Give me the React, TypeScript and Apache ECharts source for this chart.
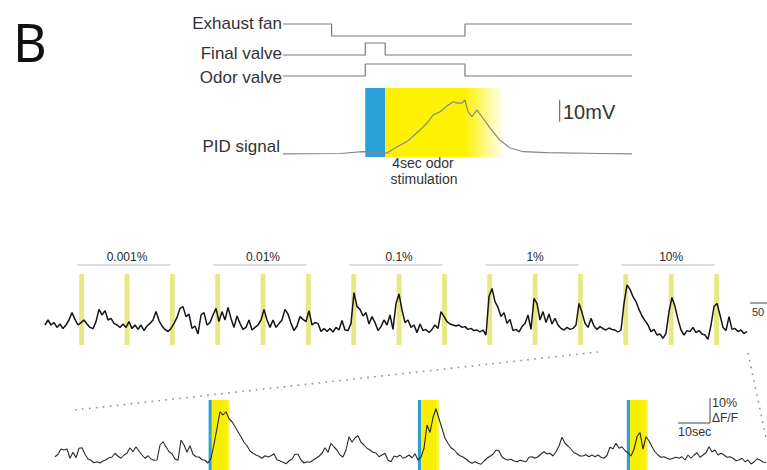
import React, { useEffect, useRef } from "react";
import * as echarts from "echarts";

// ---------- Top panel (time in s relative to odor valve opening) ----------
const TOP_T_MIN = -3.3;
const TOP_T_MAX = 10.7;
const EXHAUST_T = [-3.3, -1.35, 4.0, 10.7];
const EXHAUST_S = [1, 0, 1, 1];
const FINAL_T = [-3.3, 0, 0.8, 10.7];
const FINAL_S = [0, 1, 0, 0];
const ODOR_T = [-3.3, 0, 4.0, 10.7];
const ODOR_S = [0, 1, 0, 0];
const PID_T = [-3.3, -1.0, -0.1, 0.4, 0.87, 1.27, 1.67, 2.2, 2.52, 2.72, 3.0, 3.28, 3.52, 3.72, 3.88, 4.0, 4.12, 4.28, 4.48, 4.68, 5.0, 5.4, 5.81, 6.33, 7.29, 9.42, 10.7];
const PID_MV = [1.4, 1.6, 2.4, 2.0, 1.8, 4.5, 7.0, 12.3, 15.9, 19.1, 20.6, 23.2, 25.1, 24.5, 24.5, 25.9, 20.6, 18.3, 21.4, 18.3, 13.2, 7.7, 4.1, 2.4, 2.0, 1.6, 1.4];
const PID_BLUE = [0, 0.8];
const PID_YELLOW = [0.8, 5.6];
const PID_SCALE_T = 7.8;
const PID_SCALE_MV = [16, 26];

// ---------- Middle panel (time in s, ΔF/F in %) ----------
const MID_DT = 4.3;
const MID_T_MAX = 1010.5;
const MID_VALUES = [
  2.5, 5, 2.5, 3.7, 1.3, 3, 0.7, 2.5, 5, 8.7,
  5.3, 2.5, 3.7, 5, 3, 1.3, 0.7, 4.2, 10.3, 7.5,
  9.7, 5, 5.8, 3.3, 2.5, 1.3, 3, 1.3, 4.2, 0.7,
  2.5, 0.3, 2.5, -0.3, 2, 3.3, 5, 9.2, 4.7, 2,
  0.3, -0.8, 0.8, 3.3, 6.3, 10.8, 11.7, 6.7, 8, 0.8,
  2, -2, 7.5, 8.7, 2.5, 3.7, 7.5, 10.8, 4.2, 9.2,
  5, 11.3, 5.8, 1.3, 7, 3.3, 0.3, 1.3, 5, 0,
  1.3, 2.5, 5, 10.3, 5, 1.3, 5, 1.3, 3.3,
  5, 10.3, 8, 3.3, -0.3, 2, 6.7, 5.3, 4.2, 9.7,
  2.5, 3.7, 3.3, -0.8, 0.8, -0.8, 0.8, -1, 1.3, 0,
  4.7, 0, -0.3, 3.3, 18.7, 11.7, 10.3, 7, 8.7, 3,
  6.7, 3.7, -0.3, 1.7, 5, 2.5, 7.5, 0.3, 13.3, 18,
  10, 3.7, 5, 1.3, 2.5, -1.3, 3, -0.3, 0.3, -1.3,
  0.3, 2.5, 0.8, 9.2, 6.7, 4.2, 3, 2.5, 2, 2.5,
  1.3, 1.7, 0.3, 0.8, -0.3, 0, -1, 0, -2.5, 16.7,
  20.8, 14.2, 11.3, 6.7, 8.7, 3.3, 5.3, -0.3,
  0.3, -1, 1.7, 3.3, 7.5, 0.3, 15.8, 13.3, 5, 9.2,
  3.7, 8, 3, 5.8, 2.5, 0.8, 0, 1.3, 0.3, 0.8,
  2.5, 13.3, 8.7, 3.3, 1.3, 5.8, 2, 0.3, 1.7, 0.7,
  0, 1, 0.3, 0, -1, 0, 13.3, 22.5, 20.3, 16.7,
  14.2, 10.3, 7, 4.7, 2.5, -0.8, 0.3, -2.5, -2, -4.2,
  -1.7, 9.2, 16.3, 11.7, 5.3, 0, -2.5, -0.3, -0.8, 1.3,
  -1.3, -0.3, -2, -2.5, -4.7, 2.5, 11.7, 13.3, 7.5, 1.3,
  -0.3, 6.7, 0.3, 0.8, -0.8, 0, -1.7, -0.8,
];
const MID_STIM = [49, 114, 179, 244, 309, 374, 439, 504, 569, 634, 699, 764, 829, 894, 959];
const MID_STIM_W = 7;
const CONC_LABELS = ["0.001%", "0.01%", "0.1%", "1%", "10%"];

// ---------- Bottom panel (zoom on 10%; time in s, ΔF/F in %) ----------
const BOT_DT = 0.9375;
const BOT_T_MAX = 222.5;
const BOT_VALUES = [
  1.3, 2.3, 4.4, 4, 4.4, 0.7, 3.1, 0.9, 4.7, 4.9,
  2.3, 0.4, -0.1, -1.1, -0.7, -1.2, -0.4, 0.1, 0.9, 1.2,
  2.7, 1.5, 0.7, 2, 2.7, 4.9, 3.3, 5.3, 3.6, 2,
  0.7, 1.7, 0.4, -0.1, 0, 6, 7.3, 5.3, 3.3, 2.5,
  0.4, -0.1, 8, 6, 3.1, 5.7, 2.3, 1.3, 1.2, 0.1,
  -0.1, -1.2, 0.7, 6.3, 12.7, 19.3, 18, 19.3, 16.5, 15.3,
  13.3, 11.3, 9.3, 7.1, 5.7, 3.6, 2.7, 2, 1.5, 0.7,
  1.7, 1.2, 1.7, 2.5, 0.1, -0.4, -0.9, -1.5, -0.4, 0.4,
  2.3, 2.3, 0, -1.2, -0.7, -0.9, -0.1, 0.7, 1.5, 2.7,
  4.9, 3.1, 6.7, 5.2, 4, 2, 1.2, 4, 9.3, 7.1,
  8.9, 9.7, 7.1, 6, 4.7, 4, 3.1, 2.8, 1.3, 2,
  2.7, -0.1, -0.7, 1.6, 1.2, 2, 0.7, 1.2, 2, 0.9,
  2.5, 0, 1.2, 4.7, 14, 11, 17, 20.5, 16.5, 12.7,
  8.7, 6.7, 4.9, 4.1, 2.7, 1.7, 1.2, 0.4, -0.7, -1.3,
  -0.7, -1.3, -1.7, -0.4, 0.7, 1.5, 2.3, 4, 3.6, 1.2,
  0.4, 0, 0.3, -0.4, -0.7, -0.1, -0.4, -0.7, 1.1, 1.3,
  0.7, 1.3, 2.4, 3.3, 2.4, 2.7, 1.6, 3.3, 5.6, 9.1,
  6.7, 5.6, 4.3, 2.9, 2.4, 1.6, 1.6, 2.1, 1.3, 2,
  1.3, 2, 1.1, 0.7, 1.9, 5.1, 4.5, 6.7, 4.7, 5.3,
  3.7, 2.9, 1.6, 4.3, 9.3, 11, 4.3, 9.3, 7.7, 5.3,
  3.3, 2, 1.1, 1.3, 0.7, 0.3, 0.7, 1.1, 0.7, 1.3,
  0, 2, 0.7, 2, 2.9, 1.1, 2, 2.9, 5.3, 3.3,
  4, 2, 2.7, 2, 1.1, 1.3, 0.7, -0.3, 0, 0.7,
  -0.7, 0, -1.6, -0.8, 0.5, 0, -0.8, -1,
];
const BOT_STIM = [48, 113.4, 178.7];
const BOT_BLUE_W = 1;
const BOT_YELLOW_W = 5.6;
const BOT_SCALE_T = 194.7;
const BOT_SCALE_V = 14.8;
const BOT_SCALE_SEC = 10;
const BOT_SCALE_PCT = 10;

const FONT = "'Liberation Sans', Arial, Helvetica, sans-serif";
const TXT = "#333333";
const BLUE = "#2b9fd8";
const YELLOW = "#fff200";
const PALE = "rgba(222, 226, 92, 0.75)";

function buildOption(): any {
  const axisPair = (i: number, xmin: number, xmax: number, ymin: number, ymax: number) => ({
    x: { type: "value", gridIndex: i, min: xmin, max: xmax, show: false },
    y: { type: "value", gridIndex: i, min: ymin, max: ymax, show: false },
  });
  const grids = [
    { left: 283, top: 24, width: 349, height: 12 },
    { left: 283, top: 43, width: 349, height: 12 },
    { left: 283, top: 64, width: 349, height: 12 },
    { left: 283, top: 88, width: 349, height: 69 },
    { left: 45, top: 250, width: 705, height: 15 },
    { left: 45, top: 274, width: 705, height: 71 },
    { left: 55, top: 396, width: 712, height: 74 },
  ].map((g) => ({ ...g, containLabel: false, show: false }));
  const axes = [
    axisPair(0, TOP_T_MIN, TOP_T_MAX, 0, 1),
    axisPair(1, TOP_T_MIN, TOP_T_MAX, 0, 1),
    axisPair(2, TOP_T_MIN, TOP_T_MAX, 0, 1),
    axisPair(3, TOP_T_MIN, TOP_T_MAX, 0, 31.36),
    axisPair(4, 0, MID_T_MAX, 0, 1),
    axisPair(5, 0, MID_T_MAX, -7.5, 28),
    axisPair(6, 0, BOT_T_MAX, -4, 25.6),
  ];

  const step = (i: number, T: number[], S: number[]) => ({
    type: "line",
    xAxisIndex: i,
    yAxisIndex: i,
    step: "end",
    symbol: "none",
    clip: false,
    silent: true,
    data: T.map((t, k) => [t, S[k]]),
    lineStyle: { color: "#7b7b7b", width: 1.2 },
  });

  const fade = new echarts.graphic.LinearGradient(0, 0, 1, 0, [
    { offset: 0, color: YELLOW },
    { offset: 0.66, color: YELLOW },
    { offset: 1, color: "rgba(255,242,0,0)" },
  ]);
  const botFade = new echarts.graphic.LinearGradient(0, 0, 1, 0, [
    { offset: 0, color: "#f7ee00" },
    { offset: 0.8, color: "#f9f000" },
    { offset: 1, color: "#fbf56a" },
  ]);

  const concLine: any[] = [];
  const concLab: any[] = [];
  CONC_LABELS.forEach((lab, g) => {
    concLine.push([MID_STIM[3 * g] - 3, 0], [MID_STIM[3 * g + 2] + 1, 0], null);
    concLab.push({ value: [MID_STIM[3 * g + 1] + MID_STIM_W / 2, 0.53], name: lab });
  });

  const series: any[] = [
    step(0, EXHAUST_T, EXHAUST_S),
    step(1, FINAL_T, FINAL_S),
    step(2, ODOR_T, ODOR_S),
    {
      type: "line",
      xAxisIndex: 3,
      yAxisIndex: 3,
      data: [],
      z: 1,
      silent: true,
      markArea: {
        silent: true,
        data: [
          [{ xAxis: PID_BLUE[0], itemStyle: { color: BLUE } }, { xAxis: PID_BLUE[1] }],
          [{ xAxis: PID_YELLOW[0], itemStyle: { color: fade } }, { xAxis: PID_YELLOW[1] }],
        ],
      },
    },
    {
      type: "line",
      xAxisIndex: 3,
      yAxisIndex: 3,
      symbol: "none",
      z: 3,
      silent: true,
      clip: false,
      data: PID_T.map((t, k) => [t, PID_MV[k]]),
      lineStyle: { color: "#858585", width: 1.2 },
    },
    {
      type: "line",
      xAxisIndex: 3,
      yAxisIndex: 3,
      symbol: "none",
      z: 3,
      silent: true,
      clip: false,
      data: [[PID_SCALE_T, PID_SCALE_MV[0]], [PID_SCALE_T, PID_SCALE_MV[1]]],
      lineStyle: { color: "#555", width: 1 },
    },
    {
      type: "line",
      xAxisIndex: 4,
      yAxisIndex: 4,
      symbol: "none",
      silent: true,
      clip: false,
      connectNulls: false,
      data: concLine,
      lineStyle: { color: "#b7bbca", width: 1 },
    },
    {
      type: "scatter",
      xAxisIndex: 4,
      yAxisIndex: 4,
      symbolSize: 1,
      silent: true,
      itemStyle: { color: "transparent", opacity: 1 },
      data: concLab,
      label: {
        show: true,
        position: "inside",
        formatter: "{b}",
        fontSize: 12,
        fontFamily: FONT,
        color: "#2a2a2a",
        opacity: 1,
      },
    },
    {
      type: "line",
      xAxisIndex: 5,
      yAxisIndex: 5,
      data: [],
      z: 1,
      silent: true,
      markArea: {
        silent: true,
        itemStyle: { color: PALE },
        data: MID_STIM.map((t) => [{ xAxis: t }, { xAxis: t + MID_STIM_W }]),
      },
    },
    {
      type: "line",
      xAxisIndex: 5,
      yAxisIndex: 5,
      symbol: "none",
      z: 3,
      silent: true,
      data: MID_VALUES.map((v, k) => [k * MID_DT, v]),
      lineStyle: { color: "#151515", width: 1.5 },
    },
    {
      type: "line",
      xAxisIndex: 6,
      yAxisIndex: 6,
      data: [],
      z: 1,
      silent: true,
      markArea: {
        silent: true,
        data: BOT_STIM.flatMap((t) => [
          [{ xAxis: t, yAxis: -4, itemStyle: { color: BLUE } }, { xAxis: t + BOT_BLUE_W, yAxis: 24 }],
          [{ xAxis: t + BOT_BLUE_W, yAxis: -4, itemStyle: { color: botFade } }, { xAxis: t + BOT_BLUE_W + BOT_YELLOW_W, yAxis: 24 }],
        ]),
      },
    },
    {
      type: "line",
      xAxisIndex: 6,
      yAxisIndex: 6,
      symbol: "none",
      z: 3,
      silent: true,
      clip: false,
      data: BOT_VALUES.map((v, k) => [k * BOT_DT, v]),
      lineStyle: { color: "#2a2a2a", width: 1.1 },
    },
    {
      type: "line",
      xAxisIndex: 6,
      yAxisIndex: 6,
      symbol: "none",
      z: 3,
      silent: true,
      clip: false,
      data: [
        [BOT_SCALE_T, BOT_SCALE_V],
        [BOT_SCALE_T + BOT_SCALE_SEC, BOT_SCALE_V],
        [BOT_SCALE_T + BOT_SCALE_SEC, BOT_SCALE_V + BOT_SCALE_PCT],
      ],
      lineStyle: { color: "#444", width: 1 },
    },
  ];

  const text = (t: string, x: number, y: number, size: number, align = "left", extra: any = {}) => ({
    type: "text",
    x,
    y,
    silent: true,
    z: 10,
    style: {
      text: t,
      fontSize: size,
      fontFamily: FONT,
      fill: TXT,
      align,
      verticalAlign: "middle",
      ...extra,
    },
  });
  const dotted = (x1: number, y1: number, x2: number, y2: number) => ({
    type: "line",
    silent: true,
    z: 10,
    shape: { x1, y1, x2, y2 },
    style: { stroke: "#8a91a6", lineWidth: 1.6, lineDash: [1.6, 5.4] },
  });

  const graphic = [
    text("B", 13, 41, 52, "left", { fontFamily: "'Noto Sans', 'Open Sans', sans-serif", fill: "#111" }),
    text("Exhaust fan", 282, 23, 17, "right"),
    text("Final valve", 282, 53, 17, "right"),
    text("Odor valve", 282, 77, 17, "right"),
    text("PID signal", 280, 146, 17, "right"),
    text("4sec odor", 423, 163, 14, "center"),
    text("stimulation", 424, 179, 14, "center"),
    text("10mV", 563, 112, 20, "left"),
    text("50", 752, 312, 11, "left"),
    { type: "line", silent: true, shape: { x1: 750, y1: 303, x2: 767, y2: 303 }, style: { stroke: "#444", lineWidth: 1 } },
    text("10%", 712, 403, 12.5, "left"),
    text("\u0394F/F", 712, 418, 12, "left"),
    text("10sec", 678, 432, 12.5, "left"),
    dotted(75, 410, 598, 352),
    dotted(748, 353, 767, 442),
  ];

  return {
    animation: false,
    backgroundColor: "#ffffff",
    grid: grids,
    xAxis: axes.map((a) => a.x),
    yAxis: axes.map((a) => a.y),
    series,
    graphic,
  };
}

export default function App() {
  const ref = useRef<HTMLDivElement>(null);
  useEffect(() => {
    document.body.style.margin = "0";
    const chart = echarts.init(ref.current as HTMLDivElement, null, { renderer: "svg" });
    chart.setOption(buildOption());
    return () => chart.dispose();
  }, []);
  return <div ref={ref} style={{ width: 767, height: 470 }} />;
}
